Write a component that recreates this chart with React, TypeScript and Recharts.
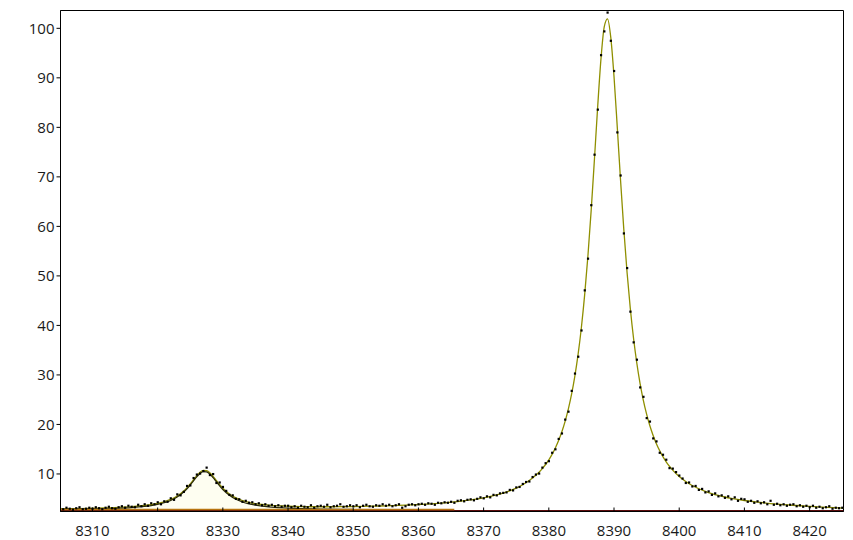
import React from 'react';
import { ComposedChart, Line, Scatter, Area, XAxis, YAxis, ReferenceArea } from 'recharts';

// Observed points (x positions and intensities)
const obsX = [
  8305, 8305.5, 8306, 8306.5, 8307, 8307.5, 8308, 8308.5, 8309, 8309.5,
  8310, 8310.5, 8311, 8311.5, 8312, 8312.5, 8313, 8313.5, 8314, 8314.5,
  8315, 8315.5, 8316, 8316.5, 8317, 8317.5, 8318, 8318.5, 8319, 8319.5,
  8320, 8320.5, 8321, 8321.5, 8322, 8322.5, 8323, 8323.5, 8324, 8324.5,
  8325, 8325.5, 8326, 8326.5, 8327, 8327.5, 8328, 8328.5, 8329, 8329.5,
  8330, 8330.5, 8331, 8331.5, 8332, 8332.5, 8333, 8333.5, 8334, 8334.5,
  8335, 8335.5, 8336, 8336.5, 8337, 8337.5, 8338, 8338.5, 8339, 8339.5,
  8340, 8340.5, 8341, 8341.5, 8342, 8342.5, 8343, 8343.5, 8344, 8344.5,
  8345, 8345.5, 8346, 8346.5, 8347, 8347.5, 8348, 8348.5, 8349, 8349.5,
  8350, 8350.5, 8351, 8351.5, 8352, 8352.5, 8353, 8353.5, 8354, 8354.5,
  8355, 8355.5, 8356, 8356.5, 8357, 8357.5, 8358, 8358.5, 8359, 8359.5,
  8360, 8360.5, 8361, 8361.5, 8362, 8362.5, 8363, 8363.5, 8364, 8364.5,
  8365, 8365.5, 8366, 8366.5, 8367, 8367.5, 8368, 8368.5, 8369, 8369.5,
  8370, 8370.5, 8371, 8371.5, 8372, 8372.5, 8373, 8373.5, 8374, 8374.5,
  8375, 8375.5, 8376, 8376.5, 8377, 8377.5, 8378, 8378.5, 8379, 8379.5,
  8380, 8380.5, 8381, 8381.5, 8382, 8382.5, 8383, 8383.5, 8384, 8384.5,
  8385, 8385.5, 8386, 8386.5, 8387, 8387.5, 8388, 8388.5, 8389, 8389.5,
  8390, 8390.5, 8391, 8391.5, 8392, 8392.5, 8393, 8393.5, 8394, 8394.5,
  8395, 8395.5, 8396, 8396.5, 8397, 8397.5, 8398, 8398.5, 8399, 8399.5,
  8400, 8400.5, 8401, 8401.5, 8402, 8402.5, 8403, 8403.5, 8404, 8404.5,
  8405, 8405.5, 8406, 8406.5, 8407, 8407.5, 8408, 8408.5, 8409, 8409.5,
  8410, 8410.5, 8411, 8411.5, 8412, 8412.5, 8413, 8413.5, 8414, 8414.5,
  8415, 8415.5, 8416, 8416.5, 8417, 8417.5, 8418, 8418.5, 8419, 8419.5,
  8420, 8420.5, 8421, 8421.5, 8422, 8422.5, 8423, 8423.5, 8424, 8424.5,
  8425,
];
const obsY = [
  3.1, 2.9, 3.2, 3.0, 2.8, 3.1, 3.3, 2.9, 3.0, 3.2,
  3.0, 3.3, 3.1, 2.9, 3.2, 3.4, 3.1, 3.0, 3.3, 3.5,
  3.2, 3.6, 3.4, 3.3, 3.8, 3.5, 3.9, 3.6, 4.1, 3.9,
  4.3, 3.9, 4.5, 4.4, 5.1, 4.8, 5.9, 5.7, 6.4, 7.6,
  7.7, 9.2, 9.9, 10.1, 10.6, 11.3, 9.8, 10.0, 8.2, 8.3,
  7.4, 6.6, 5.8, 5.7, 5.0, 4.9, 4.4, 4.6, 4.2, 4.3,
  3.9, 4.1, 3.7, 3.9, 3.6, 3.8, 3.5, 3.7, 3.4, 3.6,
  3.6, 3.3, 3.5, 3.2, 3.6, 3.4, 3.3, 3.7, 3.2, 3.5,
  3.6, 3.4, 3.8, 3.3, 3.5, 3.6, 3.9, 3.4, 3.5, 3.7,
  3.5, 3.7, 3.3, 3.6, 3.8, 3.5, 3.4, 3.7, 3.6, 3.9,
  3.6, 3.8, 3.5, 3.7, 3.9, 3.2, 3.5, 3.8, 3.9, 3.7,
  3.9, 4.0, 3.8, 4.1, 4.0, 3.8, 4.2, 4.1, 4.3, 4.2,
  4.4, 4.2, 4.6, 4.7, 4.5, 4.8, 4.9, 4.7, 5.0, 5.3,
  5.1, 5.5, 5.3, 5.8, 5.7, 6.1, 6.2, 6.3, 6.8, 6.7,
  7.3, 7.4, 8.0, 8.4, 8.5, 9.4, 9.9, 10.1, 11.3, 12.2,
  12.6, 14.3, 15.0, 17.1, 18.2, 21.0, 22.6, 26.8, 30.3, 33.7,
  39.0, 47.1, 53.5, 64.3, 74.5, 83.6, 94.6, 99.4, 103.2, 97.5,
  91.4, 79.0, 70.3, 58.6, 51.6, 42.8, 36.6, 33.1, 27.5, 25.6,
  21.3, 20.6, 17.2, 16.6, 14.3, 13.9, 12.9, 11.2, 11.1, 10.4,
  9.7, 9.1, 8.2, 8.3, 7.5, 7.6, 6.8, 7.0, 6.3, 6.5,
  5.8, 6.1, 5.5, 5.7, 5.2, 5.5, 4.9, 5.3, 4.6, 5.0,
  4.9, 4.4, 4.6, 4.2, 4.5, 4.1, 4.3, 3.9, 4.6, 3.8,
  4.0, 3.7, 3.9, 3.6, 3.8, 3.9, 3.5, 3.7, 3.4, 3.6,
  3.3, 3.6, 3.2, 3.4, 3.1, 3.3, 3.5, 3.0, 3.2, 3.1,
  3.2,
];

// Total fitted curve
const fitX = [
  8305, 8308, 8311, 8314, 8316, 8318, 8319, 8320, 8321, 8322, 8323, 8324, 8324.5,
  8325, 8325.5, 8326, 8326.5, 8327, 8327.5, 8328, 8328.5, 8329, 8329.5, 8330,
  8331, 8332, 8333, 8334, 8335, 8336, 8337, 8338, 8340, 8342, 8345, 8348, 8350,
  8353, 8355, 8358, 8360, 8362, 8364, 8366, 8368, 8370, 8372, 8374, 8375, 8376,
  8377, 8378, 8378.5, 8379, 8379.5, 8380, 8380.5, 8381, 8381.5, 8382, 8382.5,
  8383, 8383.5, 8384, 8384.5, 8385, 8385.5, 8386, 8386.5, 8387, 8387.5, 8388,
  8388.5, 8389, 8389.5, 8390, 8390.5, 8391, 8391.5, 8392, 8392.5, 8393, 8393.5,
  8394, 8394.5, 8395, 8395.5, 8396, 8396.5, 8397, 8397.5, 8398, 8398.5, 8399,
  8400, 8401, 8402, 8403, 8404, 8405, 8406, 8407, 8408, 8410, 8412, 8414, 8416,
  8418, 8420, 8422, 8425.2,
];
const fitY = [
  2.97, 3.02, 3.1, 3.24, 3.39, 3.63, 3.8, 4.04, 4.38, 4.85, 5.55, 6.57, 7.23,
  8.0, 8.83, 9.65, 10.34, 10.71, 10.66, 10.23, 9.52, 8.69, 7.87, 7.13,
  5.97, 5.17, 4.63, 4.27, 4.01, 3.83, 3.7, 3.61, 3.48, 3.41, 3.38, 3.39, 3.42,
  3.49, 3.56, 3.7, 3.83, 3.98, 4.17, 4.42, 4.75, 5.18, 5.78, 6.6, 7.15, 7.83,
  8.67, 9.72, 10.36, 11.08, 11.91, 12.86, 13.96, 15.25, 16.75, 18.52, 20.62,
  23.13, 26.15, 29.8, 34.24, 39.64, 46.21, 54.07, 63.28, 73.61, 84.26, 93.83,
  100.29, 101.92, 98.21, 90.26, 80.04, 69.37, 59.44, 50.75, 43.43, 37.35, 32.36,
  28.26, 24.88, 22.07, 19.73, 17.77, 16.12, 14.71, 13.5, 12.46, 11.56, 10.78,
  9.48, 8.47, 7.67, 7.02, 6.48, 6.03, 5.66, 5.35, 5.08, 4.64, 4.3, 4.03, 3.81,
  3.63, 3.46, 3.31, 3.12,
];

// Left peak component
const compX = [
  8305, 8308, 8311, 8314, 8316, 8318, 8319, 8320, 8321, 8322, 8323, 8324, 8324.5,
  8325, 8325.5, 8326, 8326.5, 8327, 8327.5, 8328, 8328.5, 8329, 8329.5, 8330,
  8331, 8332, 8333, 8334, 8335, 8336, 8337, 8338, 8340, 8342, 8345, 8348, 8350,
];
const compY = [
  2.84, 2.89, 2.96, 3.08, 3.22, 3.45, 3.62, 3.85, 4.18, 4.65, 5.34, 6.35, 7.01,
  7.77, 8.6, 9.42, 10.1, 10.47, 10.42, 9.98, 9.27, 8.44, 7.61, 6.87,
  5.7, 4.89, 4.35, 3.97, 3.71, 3.51, 3.37, 3.26, 3.11, 3.01, 2.92, 2.86, 2.83,
];

// Baselines
const orangeX = [8305.1, 8365.5];
const orangeY = [2.82, 2.82];
const redX = [8305.1, 8425.2];
const redY = [2.52, 2.52];

const xTicks = [8310, 8320, 8330, 8340, 8350, 8360, 8370, 8380, 8390, 8400, 8410, 8420];
const yTicks = [10, 20, 30, 40, 50, 60, 70, 80, 90, 100];

const X_DOMAIN: [number, number] = [8305.1, 8425.2];
const Y_DOMAIN: [number, number] = [2.42, 103.6];

const rows = (xs: number[], ys: number[]) => xs.map((x, i) => ({ x, y: ys[i] }));

const obsData = rows(obsX, obsY);
const fitData = rows(fitX, fitY);
const compData = rows(compX, compY);
const orangeData = rows(orangeX, orangeY);
const redData = rows(redX, redY);

const FONT = '"Open Sans", "Noto Sans", sans-serif';

const XTick = (props: any) => {
  const { x, y, payload } = props;
  return (
    <g>
      <line x1={x} x2={x} y1={y} y2={y - 4} stroke="#000" strokeWidth={1} />
      <text x={x} y={y + 24.5} textAnchor="middle" fontFamily={FONT} fontSize={15} fill="#1a1a1a">
        {payload.value}
      </text>
    </g>
  );
};

const Dot = (props: any) => {
  const { cx, cy } = props;
  if (cx == null || cy == null) return null;
  return <rect x={cx - 1} y={cy - 1} width={2.2} height={2.2} fill="#000" />;
};

export default function App() {
  return (
    <div style={{ position: 'absolute', left: 0, top: 0, background: '#fff' }}>
      <ComposedChart
        width={853}
        height={540}
        margin={{ top: 10.5, right: 9.5, bottom: 3.5, left: 0.5 }}
      >
        <XAxis
          type="number"
          dataKey="x"
          domain={X_DOMAIN}
          ticks={xTicks}
          allowDataOverflow
          interval={0}
          height={25}
          tickLine={false}
          tickSize={0}
          tickMargin={0}
          tick={<XTick />}
          axisLine={{ stroke: '#000' }}
        />
        <YAxis
          type="number"
          dataKey="y"
          domain={Y_DOMAIN}
          ticks={yTicks}
          allowDataOverflow
          interval={0}
          width={60}
          tickSize={4}
          tickMargin={2}
          axisLine={{ stroke: '#000' }}
          tickLine={{ stroke: '#000' }}
          tick={{ fontFamily: FONT, fontSize: 15, fill: '#1a1a1a' }}
        />
        <ReferenceArea
          x1={X_DOMAIN[0]}
          x2={X_DOMAIN[1]}
          y1={Y_DOMAIN[0]}
          y2={Y_DOMAIN[1]}
          fill="none"
          stroke="#000"
          strokeWidth={1}
          ifOverflow="visible"
        />
        <Area
          data={compData}
          dataKey="y"
          type="monotone"
          baseValue={2.82}
          fill="#fefef1"
          fillOpacity={1}
          stroke="none"
          isAnimationActive={false}
        />
        <Line
          data={fitData}
          dataKey="y"
          type="monotone"
          stroke="#8f8f00"
          strokeWidth={1.3}
          dot={false}
          isAnimationActive={false}
        />
        <Line
          data={compData}
          dataKey="y"
          type="monotone"
          stroke="#2a2a08"
          strokeWidth={1.2}
          dot={false}
          isAnimationActive={false}
        />
        <Line
          data={redData}
          dataKey="y"
          stroke="#5c0c0c"
          strokeWidth={2}
          dot={false}
          isAnimationActive={false}
        />
        <Line
          data={orangeData}
          dataKey="y"
          stroke="#b8740f"
          strokeWidth={1.6}
          dot={false}
          isAnimationActive={false}
        />
        <Scatter data={obsData} dataKey="y" shape={<Dot />} isAnimationActive={false} />
      </ComposedChart>
    </div>
  );
}
